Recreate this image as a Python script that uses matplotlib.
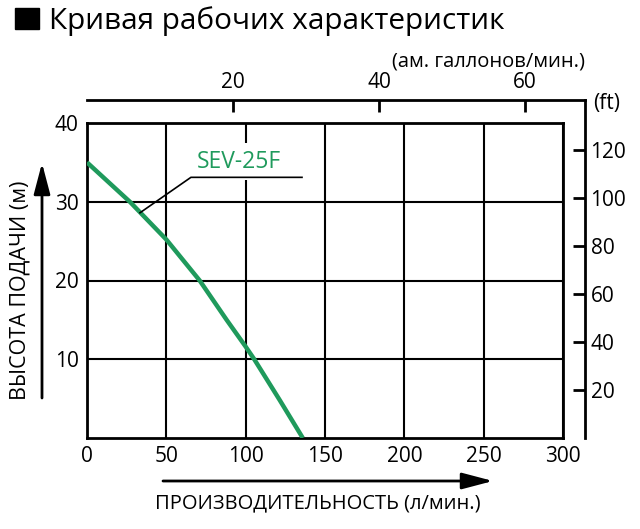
import matplotlib
matplotlib.use("Agg")
import matplotlib.pyplot as plt
from matplotlib.patches import Rectangle

plt.rcParams['font.family'] = ['Open Sans', 'DejaVu Sans']

# кривая насоса SEV-25F
flow_lpm = [0, 27, 50, 71, 88, 100, 105.4, 121.5, 136]
head_m = [35, 30, 25.2, 20, 15, 11.6, 10, 4.8, 0]

x_ticks = [0, 50, 100, 150, 200, 250, 300]
y_ticks = [10, 20, 30, 40]
gal_ticks = [20, 40, 60]
ft_ticks = [20, 40, 60, 80, 100, 120]

L_PER_GAL = 4.6      # как нарисовано на исходном графике
M_PER_FT = 0.3048
GREEN = "#1f9a5c"

W, H = 640, 529
fig = plt.figure(figsize=(W / 100, H / 100), dpi=100)

def fx(px):
    return px / W

def fy(py):
    return 1 - py / H

# основная сетка
x0, x1, y0, y1 = 87, 563, 123, 438
ax = fig.add_axes([fx(x0), fy(y1), fx(x1 - x0), (y1 - y0) / H])
ax.set_xlim(0, 300)
ax.set_ylim(0, 40)
ax.set_xticks(x_ticks)
ax.set_yticks(y_ticks)
ax.grid(True, color="black", linewidth=1.5)
ax.tick_params(length=0, labelsize=15, pad=6)
for s in ax.spines.values():
    s.set_linewidth(2)
ax.plot(flow_lpm, head_m, color=GREEN, linewidth=3.2, zorder=3,
        solid_capstyle="butt")

# подпись кривой с выноской
ax.text(69, 35.1, "SEV-25F", color=GREEN, fontsize=16.5, ha="left", va="center",
        bbox=dict(fc="white", ec="none", pad=5), zorder=4)
ax.plot([33.4, 65.5, 135.5], [28.6, 33.1, 33.1], color="black", linewidth=1.2,
        zorder=5)

# верхняя шкала (галлоны) и правая шкала (футы)
fr_right, fr_top = 585, 100
ax2 = fig.add_axes([fx(x0), fy(y1), fx(fr_right - x0), (y1 - fr_top) / H])
ax2.patch.set_visible(False)
ax2.set_xlim(0, 300 * (fr_right - x0) / (x1 - x0))
ax2.set_ylim(0, 40 * (y1 - fr_top) / (y1 - y0))
for k in ["left", "bottom"]:
    ax2.spines[k].set_visible(False)
for k in ["top", "right"]:
    ax2.spines[k].set_linewidth(2)
ax2.xaxis.tick_top()
ax2.yaxis.tick_right()
ax2.set_xticks([g * L_PER_GAL for g in gal_ticks])
ax2.set_xticklabels([str(g) for g in gal_ticks])
ax2.set_yticks([f * M_PER_FT for f in ft_ticks])
ax2.set_yticklabels([str(f) for f in ft_ticks])
ax2.tick_params(axis="x", direction="in", length=8.5, width=2, labelsize=15, pad=5)
ax2.tick_params(axis="y", direction="in", length=8.5, width=2, labelsize=15, pad=4)

fig.text(fx(585), fy(62), "(ам. галлонов/мин.)", fontsize=14.5, ha="right", va="center")
fig.text(fx(593), fy(103), "(ft)", fontsize=15, ha="left", va="center")

# заголовок
fig.patches.append(Rectangle((fx(15), fy(29)), fx(24), 21 / H, color="black",
                             transform=fig.transFigure, figure=fig))
fig.text(fx(49), fy(29), "Кривая рабочих характеристик", fontsize=21.4,
         ha="left", va="baseline")

# подписи осей со стрелками
arr = dict(arrowstyle="-|>,head_length=1.9,head_width=0.5", color="black",
           linewidth=2, shrinkA=0, shrinkB=0, mutation_scale=10)
fig.text(fx(20), fy(290), "ВЫСОТА ПОДАЧИ (м)", fontsize=15.5, rotation=90,
         ha="center", va="center")
ax.annotate("", xy=(fx(42), fy(163)), xytext=(fx(42), fy(398)),
            xycoords="figure fraction", textcoords="figure fraction",
            arrowprops=arr, annotation_clip=False)
fig.text(fx(155), fy(503), "ПРОИЗВОДИТЕЛЬНОСТЬ (л/мин.)", fontsize=14.5,
         ha="left", va="center")
ax.annotate("", xy=(fx(493), fy(481)), xytext=(fx(163), fy(481)),
            xycoords="figure fraction", textcoords="figure fraction",
            arrowprops=arr, annotation_clip=False)

fig.savefig("out.png", dpi=100)
plt.close(fig)
